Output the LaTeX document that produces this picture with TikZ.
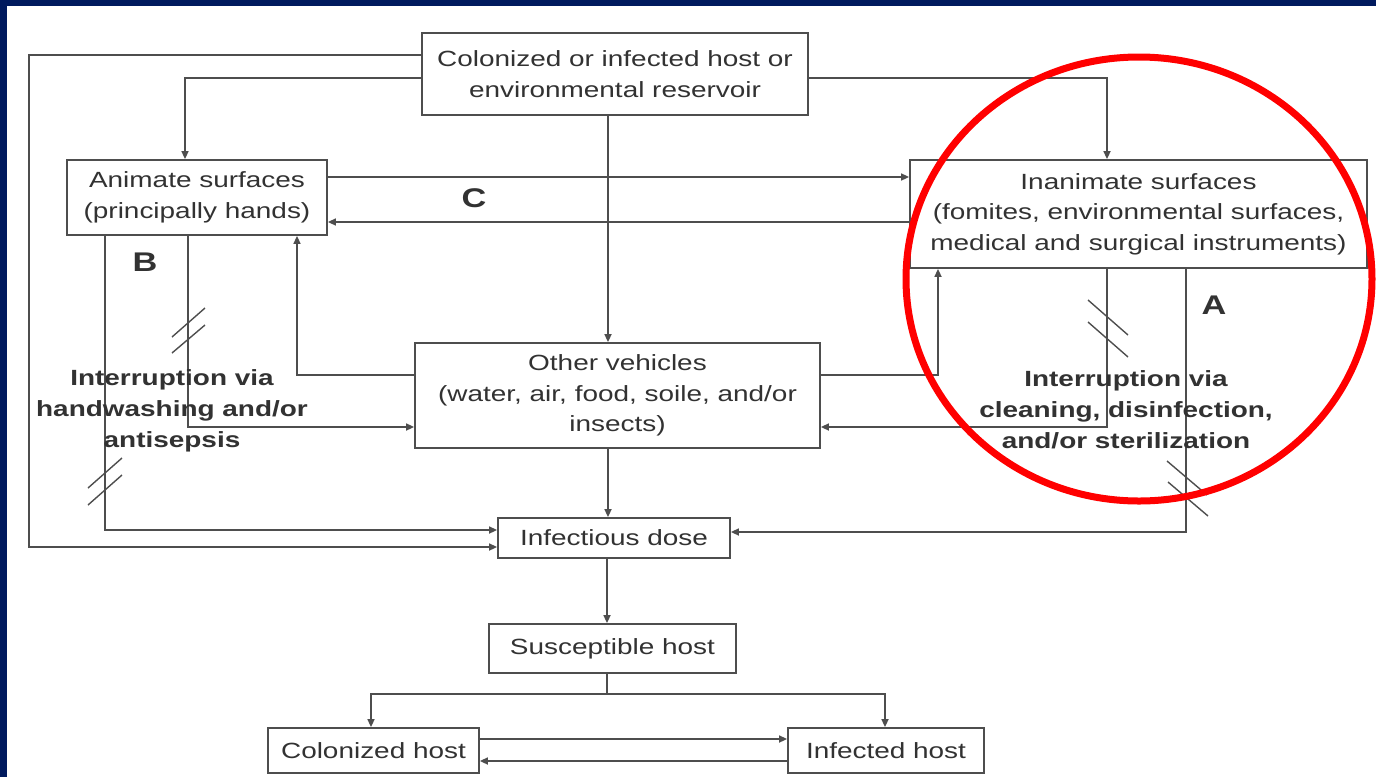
\documentclass[tikz,border=0pt]{standalone}
\usepackage{fontspec}
\setmainfont{Liberation Sans}[FakeStretch=1.27]
\usetikzlibrary{arrows.meta}
\definecolor{navy}{RGB}{0,26,94}
\definecolor{ink}{RGB}{50,50,50}
\definecolor{ln}{RGB}{78,78,78}
\begin{document}
\begin{tikzpicture}[x=1pt,y=-1pt,
  box/.style={draw=ln, line width=1.8pt, fill=white, inner sep=0pt, align=center, text=ink, font=\fontsize{22}{30.5}\selectfont},
  conn/.style={draw=ln, line width=1.6pt},
  arr/.style={conn, -{Triangle[length=8pt,width=7pt]}},
  lbl/.style={text=ink, font=\bfseries\fontsize{27}{30}\selectfont},
  note/.style={text=ink, align=center, font=\bfseries\fontsize{22}{31}\selectfont},
  brk/.style={draw=ln, line width=1.4pt}]
\fill[navy] (0,0) rectangle (1376,777);
\fill[white] (7,6) rectangle (1376,777);
\useasboundingbox (0,0) rectangle (1376,777);

% boxes
\node[box, minimum width=386pt, minimum height=82pt] (res) at (615,74) {Colonized or infected host or\\environmental reservoir};
\node[box, minimum width=260pt, minimum height=75pt] (anim) at (197,197.5) {Animate surfaces\\(principally hands)};
\node[box, minimum width=457pt, minimum height=108pt] (inan) at (1138.5,214) {Inanimate surfaces\\(fomites, environmental surfaces,\\medical and surgical instruments)};
\node[box, minimum width=405pt, minimum height=105pt] (veh) at (617.5,395.5) {Other vehicles\\(water, air, food, soile, and/or\\insects)};
\node[box, minimum width=232pt, minimum height=40pt] (dose) at (614,538) {Infectious dose};
\node[box, minimum width=247pt, minimum height=49pt] (sus) at (612.5,648.5) {Susceptible host};
\node[box, minimum width=211pt, minimum height=45pt] (col) at (373.5,750.5) {Colonized host};
\node[box, minimum width=196pt, minimum height=45pt] (inf) at (886,750.5) {Infected host};

% labels
\node[lbl] (lA) at (1214,305) {A};
\node[lbl] (lB) at (145,262) {B};
\node[lbl] (lC) at (474,198) {C};

% connectors
\draw[arr] (res.west |- 0,55) -| (29,547) -- (dose.west |- 0,547);
\draw[arr] (res.west |- 0,78) -| (anim.north -| 185,0);
\draw[arr] (res.east |- 0,78) -| (inan.north -| 1107,0);
\draw[arr] (res.south -| 608,0) -- (veh.north -| 608,0);
\draw[arr] (anim.east |- 0,177) -- (inan.west |- 0,177);
\draw[arr] (inan.west |- 0,222) -- (anim.east |- 0,222);
\draw[arr] (anim.south -| 105,0) |- (dose.west |- 0,530);
\draw[arr] (anim.south -| 188,0) |- (veh.west |- 0,427);
\draw[arr] (veh.west |- 0,375) -| (anim.south -| 297,0);
\draw[arr] (veh.east |- 0,375) -| (inan.south -| 938,0);
\draw[arr] (inan.south -| 1107,0) |- (veh.east |- 0,427);
\draw[arr] (inan.south -| 1186,0) |- (dose.east |- 0,532);
\draw[arr] (veh.south -| 608,0) -- (dose.north -| 608,0);
\draw[arr] (dose.south -| 607,0) -- (sus.north -| 607,0);
\coordinate (split) at (607,694);
\draw[conn] (sus.south -| 607,0) -- (split);
\draw[arr] (split) -| (col.north -| 371,0);
\draw[arr] (split) -| (inf.north -| 885,0);
\draw[arr] (col.east |- 0,739) -- (inf.west |- 0,739);
\draw[arr] (inf.west |- 0,761) -- (col.east |- 0,761);

% break marks
\draw[brk] (172,337) -- (205,308);
\draw[brk] (172,353) -- (205,325);
\draw[brk] (88,488) -- (122,458);
\draw[brk] (88,505) -- (122,475);
\draw[brk] (1088,300) -- (1128,335);
\draw[brk] (1088,322) -- (1128,357);
\draw[brk] (1167,461) -- (1207,495);
\draw[brk] (1168,482) -- (1208,516);

% interruption notes
\node[note] (nB) at (172,411) {Interruption via\\handwashing and/or\\antisepsis};
\node[note] (nA) at (1126,410) {Interruption via\\cleaning, disinfection,\\and/or sterilization};

% red circle
\draw[red, line width=7pt] (1139,279) ellipse [x radius=233pt, y radius=222pt];
\end{tikzpicture}
\end{document}
